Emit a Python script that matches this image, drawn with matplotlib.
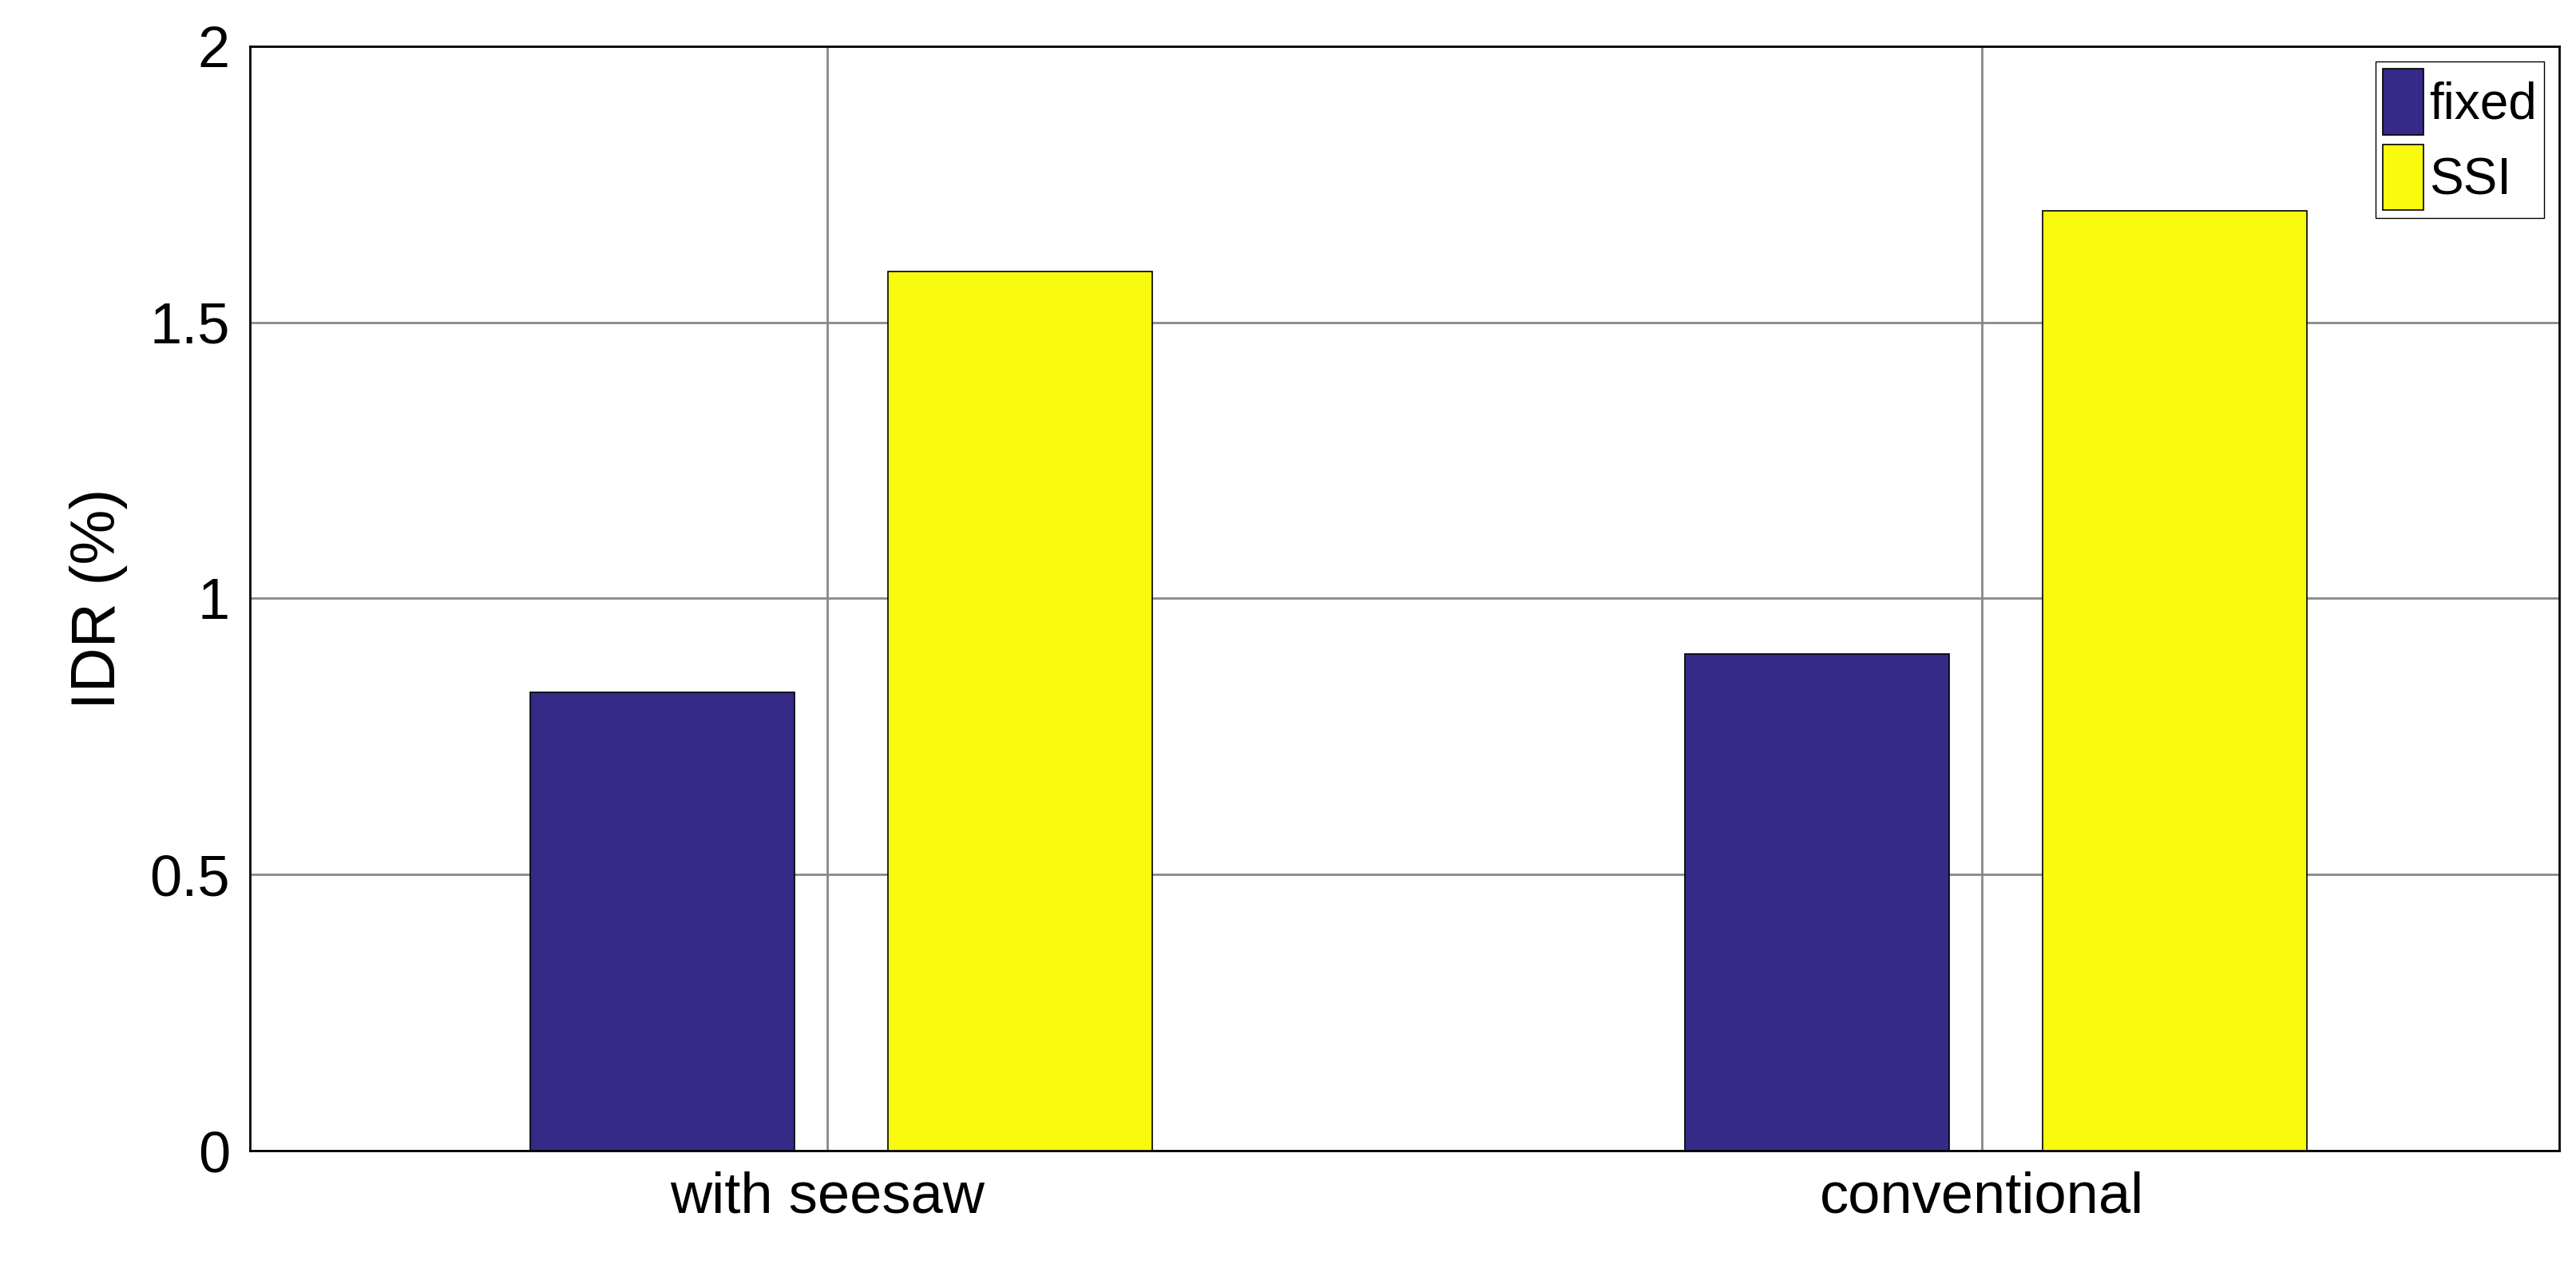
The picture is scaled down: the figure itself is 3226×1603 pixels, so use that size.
import numpy as np
import matplotlib.pyplot as plt

plt.rcParams['font.family'] = ['Liberation Sans', 'DejaVu Sans']

groups = ['with seesaw', 'conventional']
fixed = [0.830, 0.899]
ssi = [1.592, 1.702]

fig = plt.figure(figsize=(32.26, 16.03), dpi=100)
ax = fig.add_axes([0.097, 0.101, 0.8966, 0.863])

x = np.arange(1, len(groups) + 1)
w = 0.229
ax.bar(x - 0.143, fixed, w, color='#352A87', edgecolor='black', linewidth=1.2, label='fixed', zorder=3)
ax.bar(x + 0.167, ssi, w, color='#F9FB0E', edgecolor='black', linewidth=1.2, label='SSI', zorder=3)

ax.set_xlim(0.5, 2.5)
ax.set_ylim(0, 2)
ax.set_xticks(x)
ax.set_xticklabels(groups)
ax.set_yticks([0, 0.5, 1, 1.5, 2])
ax.set_yticklabels(['0', '0.5', '1', '1.5', '2'])
ax.grid(True, color='#888888', linewidth=2, zorder=0)
ax.tick_params(labelsize=52, length=0, pad=18)
ax.set_ylabel('IDR (%)', fontsize=56, labelpad=20)
for s in ax.spines.values():
    s.set_linewidth(2)
ax.legend(loc='upper right', fontsize=46, fancybox=False, edgecolor='black',
          framealpha=1, handlelength=0.8, handleheight=1.6, handletextpad=0.1,
          borderpad=0.15, labelspacing=0.2, borderaxespad=0.3)

fig.savefig('out.png', dpi=100)
